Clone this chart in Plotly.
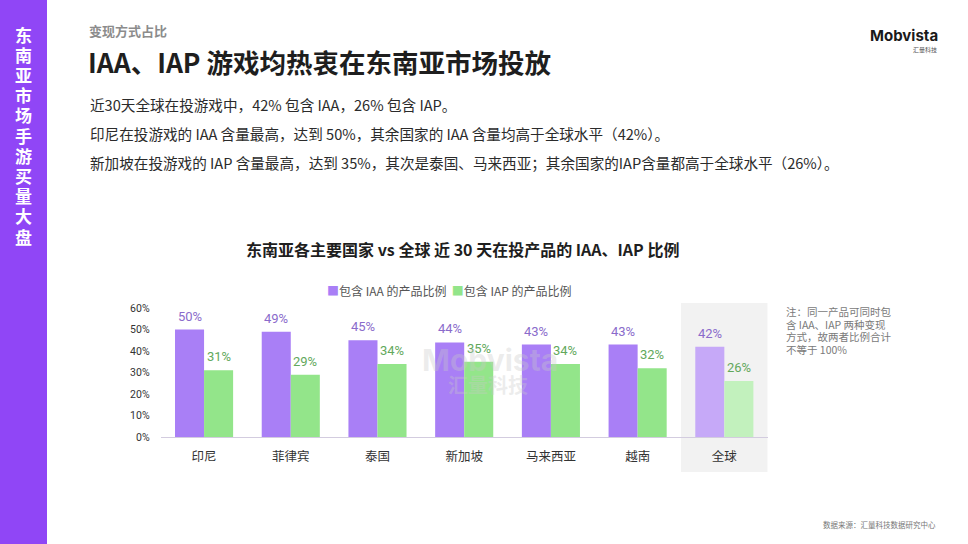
import plotly.graph_objects as go

categories = ["印尼", "菲律宾", "泰国", "新加坡", "马来西亚", "越南", "全球"]
iaa_values = [0.50, 0.49, 0.45, 0.44, 0.43, 0.43, 0.42]
iap_values = [0.31, 0.29, 0.34, 0.35, 0.34, 0.32, 0.26]
series_names = ["包含 IAA 的产品比例", "包含 IAP 的产品比例"]
y_ticks = [0, 0.1, 0.2, 0.3, 0.4, 0.5, 0.6]

W, H = 968, 544
FONT = "Noto Sans CJK SC"
NUMFONT = "Roboto"

def px(x):
    return x / W

def py(y):
    return 1 - y / H

purple = "#a97ff6"
green = "#93e58a"
purple_light = "#c6a9f8"
green_light = "#c2f1bd"
purple_text = "#8a6bcb"
green_text = "#62a85c"

iaa_colors = [purple] * (len(categories) - 1) + [purple_light]
iap_colors = [green] * (len(categories) - 1) + [green_light]

fig = go.Figure()
fig.add_trace(go.Bar(
    x=categories, y=iaa_values, name=series_names[0],
    marker=dict(color=iaa_colors, line=dict(width=0)),
    hoverinfo="skip", showlegend=False,
))
fig.add_trace(go.Bar(
    x=categories, y=iap_values, name=series_names[1],
    marker=dict(color=iap_colors, line=dict(width=0)),
    hoverinfo="skip", showlegend=False,
))

shapes = [
    dict(type="rect", xref="paper", yref="paper", x0=0, x1=px(47), y0=-0.05, y1=1.05,
         fillcolor="#9046f6", line=dict(width=0), layer="below"),
    dict(type="rect", xref="x", yref="paper", x0=5.5, x1=6.5, y0=py(472), y1=py(303),
         fillcolor="#f2f2f2", line=dict(width=0), layer="below"),
]

annotations = []

BAR_SHIFT = 14.5
for c, v in zip(categories, iaa_values):
    annotations.append(dict(x=c, y=v, xref="x", yref="y", text=f"{round(v*100)}%",
                            showarrow=False, xanchor="center", yanchor="bottom",
                            xshift=-BAR_SHIFT, yshift=4,
                            font=dict(family=NUMFONT, size=13, color=purple_text)))
for c, v in zip(categories, iap_values):
    annotations.append(dict(x=c, y=v, xref="x", yref="y", text=f"{round(v*100)}%",
                            showarrow=False, xanchor="center", yanchor="bottom",
                            xshift=BAR_SHIFT, yshift=4,
                            font=dict(family=NUMFONT, size=13, color=green_text)))

side_text = "东南亚市场手游买量大盘"
for i, ch in enumerate(side_text):
    annotations.append(dict(
        x=px(23), y=py(34 + 20.2 * i), xref="paper", yref="paper",
        text=f"<b>{ch}</b>", showarrow=False, xanchor="center", yanchor="middle",
        font=dict(family=FONT, size=17, color="#ffffff")))

note_lines = ["注：同一产品可同时包", "含 IAA、IAP 两种变现", "方式，故两者比例合计", "不等于 100%"]
for i, line in enumerate(note_lines):
    annotations.append(dict(
        x=px(784), y=py(311.5 + 12.5 * i), xref="paper", yref="paper", text=line,
        showarrow=False, xanchor="left", yanchor="middle",
        font=dict(family=FONT, size=10.5, color="#7a7a7a")))

legend_text = (f"<span style='color:{purple}'>■</span>{series_names[0]}  "
               f"<span style='color:{green}'>■</span>{series_names[1]}")

annotations += [
    dict(x=px(87), y=py(30), xref="paper", yref="paper", text="<b>变现方式占比</b>",
         showarrow=False, xanchor="left", yanchor="middle",
         font=dict(family=FONT, size=13, color="#8c8c8c")),
    dict(x=px(86), y=py(61), xref="paper", yref="paper",
         text="<b>IAA、IAP 游戏均热衷在东南亚市场投放</b>",
         showarrow=False, xanchor="left", yanchor="middle",
         font=dict(family=FONT, size=26.5, color="#1e1e1e")),
    dict(x=px(88), y=py(104), xref="paper", yref="paper",
         text="近30天全球在投游戏中，42% 包含 IAA，26% 包含 IAP。",
         showarrow=False, xanchor="left", yanchor="middle",
         font=dict(family=FONT, size=14.6, color="#2b2b2b")),
    dict(x=px(88), y=py(133), xref="paper", yref="paper",
         text="印尼在投游戏的 IAA 含量最高，达到 50%，其余国家的 IAA 含量均高于全球水平（42%）。",
         showarrow=False, xanchor="left", yanchor="middle",
         font=dict(family=FONT, size=14.6, color="#2b2b2b")),
    dict(x=px(88), y=py(162), xref="paper", yref="paper",
         text="新加坡在投游戏的 IAP 含量最高，达到 35%，其次是泰国、马来西亚；其余国家的IAP含量都高于全球水平（26%）。",
         showarrow=False, xanchor="left", yanchor="middle",
         font=dict(family=FONT, size=14.6, color="#2b2b2b")),
    dict(x=px(462), y=py(249), xref="paper", yref="paper",
         text="<b>东南亚各主要国家 vs 全球 近 30 天在投产品的 IAA、IAP 比例</b>",
         showarrow=False, xanchor="center", yanchor="middle",
         font=dict(family=FONT, size=16, color="#1e1e1e")),
    dict(x=px(449), y=py(290), xref="paper", yref="paper", text=legend_text,
         showarrow=False, xanchor="center", yanchor="middle",
         font=dict(family=FONT, size=12, color="#555555")),
    dict(x=px(938), y=py(524), xref="paper", yref="paper",
         text="数据来源：汇量科技数据研究中心",
         showarrow=False, xanchor="right", yanchor="middle",
         font=dict(family=FONT, size=7.5, color="#777777")),
    dict(x=px(940), y=py(36), xref="paper", yref="paper", text="<b>Mobvista</b>",
         showarrow=False, xanchor="right", yanchor="middle",
         font=dict(family="Inter", size=15, color="#1a1a1a")),
    dict(x=px(939), y=py(49), xref="paper", yref="paper", text="汇量科技",
         showarrow=False, xanchor="right", yanchor="middle",
         font=dict(family=FONT, size=6, color="#555555")),
    dict(x=px(490), y=py(360), xref="paper", yref="paper", text="<b>Mobvista</b>",
         showarrow=False, xanchor="center", yanchor="middle",
         font=dict(family="Inter", size=30, color="rgba(200,200,200,0.35)")),
    dict(x=px(488), y=py(384), xref="paper", yref="paper", text="<b>汇量科技</b>",
         showarrow=False, xanchor="center", yanchor="middle",
         font=dict(family=FONT, size=20, color="rgba(200,200,200,0.35)")),
]

fig.update_layout(
    width=W, height=H,
    margin=dict(l=0, r=0, t=0, b=0, pad=0, autoexpand=False),
    paper_bgcolor="#ffffff", plot_bgcolor="rgba(0,0,0,0)",
    barmode="group", bargap=0.33, bargroupgap=0,
    showlegend=False,
    xaxis=dict(domain=[px(160.7), px(767.7)], showgrid=False, zeroline=False,
               showline=True, linecolor="#d3ccdf", linewidth=1, automargin=False,
               tickfont=dict(family=FONT, size=12.5, color="#333333"),
               ticks="outside", ticklen=8, tickcolor="rgba(0,0,0,0)", fixedrange=True),
    yaxis=dict(domain=[py(437), py(308)], range=[0, 0.6], tickvals=y_ticks,
               tickformat=".0%", showgrid=False, zeroline=False, showline=False,
               automargin=False,
               tickfont=dict(family=NUMFONT, size=10.5, color="#333333"),
               ticks="outside", ticklen=8, tickcolor="rgba(0,0,0,0)", fixedrange=True),
    shapes=shapes,
    annotations=annotations,
)

post = ("document.documentElement.style.margin='0';"
        "document.documentElement.style.overflow='hidden';"
        "document.body.style.margin='0';document.body.style.overflow='hidden';"
        "var d=document.getElementById('{plot_id}');"
        "d.style.position='fixed';d.style.left='0px';d.style.top='0px';")

fig.write_html("out.html", config={"displayModeBar": False, "staticPlot": True},
               post_script=post)
